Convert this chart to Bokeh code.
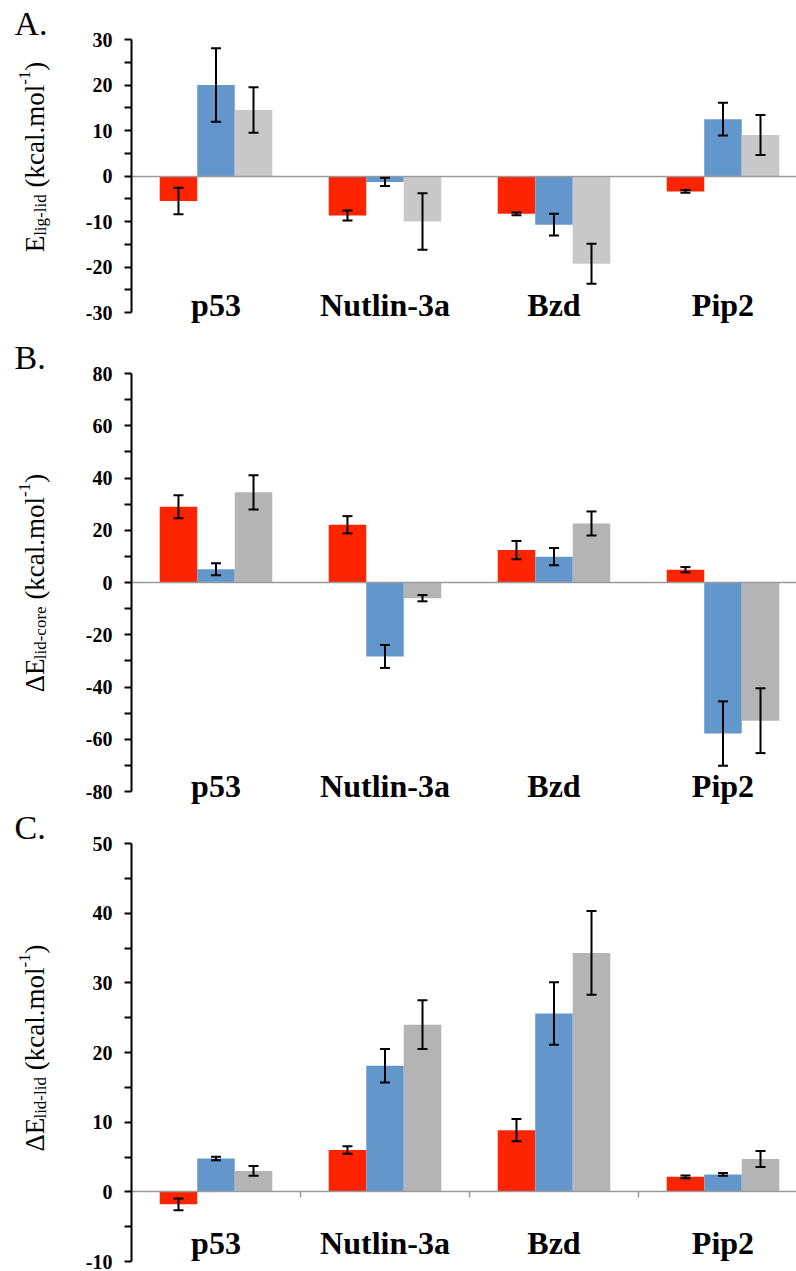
import math
import numpy as np
from bokeh.plotting import figure
from bokeh.models import (Range1d, FixedTicker, LinearAxis, Whisker, TeeHead,
                          ColumnDataSource, Label)
from bokeh.layouts import column, row
from bokeh.embed import file_html
from bokeh.resources import INLINE

# ---------------- data ----------------
categories = ["p53", "Nutlin-3a", "Bzd", "Pip2"]

# Panel A: E lig-lid
a_red = [-5.5, -8.7, -8.3, -3.4]
a_red_err = [2.9, 1.1, 0.3, 0.3]
a_blue = [20.0, -1.3, -10.7, 12.5]
a_blue_err = [8.1, 0.9, 2.4, 3.6]
a_gray = [14.5, -10.0, -19.3, 9.0]
a_gray_err = [5.0, 6.2, 4.4, 4.4]
a_ticks = [-30, -20, -10, 0, 10, 20, 30]
a_tick_labels = ["-30", "-20", "-10", "0", "10", "20", "30"]
a_minor = [-25, -15, -5, 5, 15, 25]

# Panel B: dE lid-core
b_red = [29.0, 22.1, 12.4, 4.9]
b_red_err = [4.4, 3.3, 3.5, 1.0]
b_blue = [5.1, -28.3, 9.9, -57.8]
b_blue_err = [2.3, 4.4, 3.3, 12.3]
b_gray = [34.5, -6.0, 22.6, -52.9]
b_gray_err = [6.6, 1.2, 4.6, 12.4]
b_ticks = [-80, -60, -40, -20, 0, 20, 40, 60, 80]
b_tick_labels = ["-80", "-60", "-40", "-20", "0", "20", "40", "60", "80"]
b_minor = [-70, -50, -30, -10, 10, 30, 50, 70]

# Panel C: dE lid-lid
c_red = [-1.8, 6.0, 8.85, 2.15]
c_red_err = [0.85, 0.55, 1.6, 0.2]
c_blue = [4.8, 18.1, 25.6, 2.5]
c_blue_err = [0.25, 2.4, 4.5, 0.2]
c_gray = [3.0, 24.0, 34.3, 4.7]
c_gray_err = [0.7, 3.5, 6.0, 1.15]
c_ticks = [-10, 0, 10, 20, 30, 40, 50]
c_tick_labels = ["-10", "0", "10", "20", "30", "40", "50"]
c_minor = [-5, 5, 15, 25, 35, 45]

RED = "#FF2400"
BLUE = "#6397CB"
GRAY_A = "#C8C8C8"
GRAY_BC = "#B4B4B4"

FONT = "Liberation Serif"
# Times-like advance widths (per 1000 em) for label layout
WID = {'E': 611, 'Δ': 612, 'l': 278, 'i': 278, 'g': 500, '-': 333, 'd': 500,
       'c': 444, 'o': 500, 'r': 333, 'e': 444, ' ': 250, '(': 333, ')': 333,
       'k': 500, 'a': 444, '.': 250, 'm': 778, '1': 500}


def tw(s, size):
    return sum(WID.get(ch, 500) for ch in s) / 1000.0 * size


BAR_W = 0.222
X_END = 3.935
LAB_W = 62          # width of the side strip holding letter + y title
LEFT = 131 - LAB_W  # remaining left border of the chart


def side_strip(letter, lead, sub, height, top, ylabel_center):
    """Narrow figure whose frame is the whole canvas; holds the panel letter
    and the rotated y-axis title (Labels are clipped to a frame)."""
    s = figure(width=LAB_W, height=height, x_range=Range1d(0, LAB_W),
               y_range=Range1d(0, height), output_backend="svg",
               toolbar_location=None, x_axis_location=None, y_axis_location=None,
               min_border=0, frame_align=False)
    s.outline_line_color = None
    s.grid.visible = False
    s.add_layout(Label(x=14, y=height - top + 16, text=letter, text_font=FONT,
                       text_font_size="34px", text_color="black",
                       text_baseline="alphabetic", text_align="left"))
    MAIN = 27
    SMALL = 17
    # (text, size, baseline shift, gap before in px)
    parts = [(lead, MAIN, 0, 0.0), (sub, SMALL, 6, 0.0),
             ("(kcal.mol", MAIN, 0, tw(" ", MAIN)),
             ("-1", SMALL, -10, 0.0), (")", MAIN, 0, 0.0)]
    total = sum(tw(t, sz) + g for t, sz, _, g in parts)
    pos = (height - ylabel_center) - total / 2.0
    base_x = 34
    for t, sz, shift, gap in parts:
        pos += gap
        s.add_layout(Label(x=base_x + shift, y=pos, text=t, angle=math.pi / 2,
                           text_font=FONT, text_font_size=f"{sz}px",
                           text_color="black", text_align="left",
                           text_baseline="alphabetic"))
        pos += tw(t, sz)
    return s


def make_panel(vals, errs, colors, ystart, yend, ticks, tick_labels, minor,
               height, top, bottom, cat_standoff, cat_ticks):
    p = figure(width=796 - LAB_W, height=height, x_range=Range1d(0, X_END),
               y_range=Range1d(ystart, yend), output_backend="svg",
               toolbar_location=None, min_border_left=LEFT, min_border_right=0,
               min_border_top=top, min_border_bottom=bottom, frame_align=False)
    p.outline_line_color = None
    p.grid.visible = False
    p.background_fill_color = "white"
    p.border_fill_color = "white"

    centers = np.arange(len(categories)) + 0.5
    offsets = [-BAR_W, 0.0, BAR_W]
    for v, e, col, off in zip(vals, errs, colors, offsets):
        xs = centers + off
        v = np.array(v)
        e = np.array(e)
        src = ColumnDataSource(dict(x=xs, top=v, upper=v + e, lower=v - e))
        p.vbar(x="x", top="top", bottom=0, width=BAR_W, source=src,
               fill_color=col, line_color=None)
        w = Whisker(source=src, base="x", upper="upper", lower="lower",
                    line_color="black", line_width=2, level="overlay",
                    upper_head=TeeHead(size=10, line_color="black", line_width=2),
                    lower_head=TeeHead(size=10, line_color="black", line_width=2))
        p.add_layout(w)

    # y axis
    ya = p.yaxis[0]
    ya.ticker = FixedTicker(ticks=ticks, minor_ticks=minor)
    ya.major_label_overrides = {t: l for t, l in zip(ticks, tick_labels)}
    ya.axis_line_color = "black"
    ya.axis_line_width = 2
    ya.major_tick_line_color = "black"
    ya.major_tick_line_width = 2
    ya.major_tick_out = 7
    ya.major_tick_in = 0
    ya.minor_tick_line_color = "black"
    ya.minor_tick_line_width = 2
    ya.minor_tick_out = 7
    ya.minor_tick_in = 0
    ya.major_label_text_font = FONT
    ya.major_label_text_font_style = "bold"
    ya.major_label_text_font_size = "20px"
    ya.major_label_text_color = "black"
    ya.major_label_standoff = 12

    # category labels axis
    xa = p.xaxis[0]
    xa.ticker = FixedTicker(ticks=list(centers))
    xa.major_label_overrides = {float(c): n for c, n in zip(centers, categories)}
    xa.axis_line_color = None
    xa.major_tick_line_color = None
    xa.minor_tick_line_color = None
    xa.major_tick_out = 0
    xa.major_tick_in = 0
    xa.major_label_standoff = cat_standoff
    xa.major_label_text_font = FONT
    xa.major_label_text_font_style = "bold"
    xa.major_label_text_font_size = "32px"
    xa.major_label_text_color = "black"

    # zero line axis (ticks at category boundaries in panel C)
    bounds = list(np.arange(1, len(categories))) if cat_ticks else []
    za = LinearAxis(fixed_location=0, ticker=FixedTicker(ticks=[float(b) for b in bounds]),
                    axis_line_color="#9A9A9A", axis_line_width=1.5,
                    major_tick_line_color="#9A9A9A", major_tick_line_width=1.5,
                    major_tick_in=6, major_tick_out=0,
                    minor_tick_line_color=None,
                    major_label_text_font_size="0px", major_label_standoff=0)
    za.major_label_overrides = {float(b): "" for b in bounds}
    p.add_layout(za, "above")
    return p


pA = make_panel([a_red, a_blue, a_gray], [a_red_err, a_blue_err, a_gray_err],
                [RED, BLUE, GRAY_A], -30, 30, a_ticks, a_tick_labels, a_minor,
                height=330, top=39, bottom=18, cat_standoff=-26, cat_ticks=False)
pB = make_panel([b_red, b_blue, b_gray], [b_red_err, b_blue_err, b_gray_err],
                [RED, BLUE, GRAY_BC], -80, 80, b_ticks, b_tick_labels, b_minor,
                height=478, top=43, bottom=17, cat_standoff=-24, cat_ticks=False)
pC = make_panel([c_red, c_blue, c_gray], [c_red_err, c_blue_err, c_gray_err],
                [RED, BLUE, GRAY_BC], -10, 50, c_ticks, c_tick_labels, c_minor,
                height=463, top=35, bottom=10, cat_standoff=-37, cat_ticks=True)

sA = side_strip("A.", "E", "lig-lid", 330, 39, 156.5)
sB = side_strip("B.", "ΔE", "lid-core", 478, 43, 252.5)
sC = side_strip("C.", "ΔE", "lid-lid", 463, 35, 239.5)

layout = column(row(sA, pA, spacing=0), row(sB, pB, spacing=0),
                row(sC, pC, spacing=0), spacing=0)
open("out.html", "w").write(file_html(layout, INLINE))
